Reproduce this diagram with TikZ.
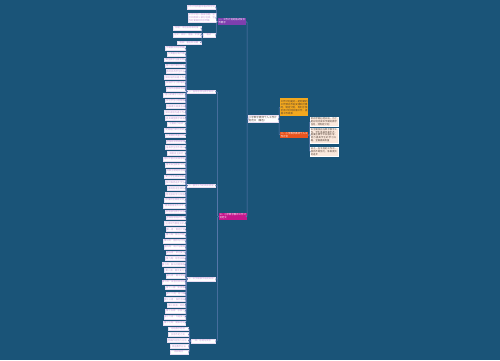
\documentclass[tikz,border=0pt]{standalone}
\usepackage{fontspec}
\newfontfamily\cjk{Noto Sans CJK SC}
\XeTeXlinebreaklocale "zh"
\XeTeXlinebreakskip=0pt plus 1pt
\definecolor{bg}{HTML}{1A5478}
\definecolor{lc}{HTML}{5F7BB0}
\definecolor{ltext}{HTML}{C49AD6}
\definecolor{lborder}{HTML}{E8DDF2}
\definecolor{yel}{HTML}{F3A81E}
\definecolor{redo}{HTML}{E8541E}
\definecolor{pur}{HTML}{7E3FAE}
\definecolor{mag}{HTML}{C4168C}
\definecolor{peach}{HTML}{FBE9DD}
\definecolor{dtext}{HTML}{4A3A30}
\tikzset{
  tiny/.style={font=\cjk\fontsize{2.3}{2.8}\selectfont},
  leaf/.style={tiny, fill=white, draw=lborder, line width=0.2pt, inner sep=0.4pt,
    text=ltext, minimum height=3.8pt, anchor=east},
  para/.style={tiny, fill=white, draw=lborder, line width=0.2pt, inner sep=0.8pt,
    text=ltext, align=left, anchor=north west},
  rootbox/.style={font=\cjk\fontsize{2.5}{3.1}\selectfont, fill=white, draw=lborder,
    line width=0.2pt, inner sep=0.8pt, text=dtext, align=left, text width=28.4pt},
  mainbox/.style={font=\cjk\fontsize{2.4}{3}\selectfont, inner sep=0.7pt, align=left,
    text=white, text width=26.6pt},
  rbox/.style={tiny, fill=peach, draw=white, line width=0.2pt, inner sep=0.8pt,
    text=dtext, align=left, text width=26.4pt, anchor=north west},
  conn/.style={draw=lc, line width=0.5pt, rounded corners=1pt}
}
\begin{document}
\begin{tikzpicture}[x=1pt,y=-1pt]
\fill[bg] (0,0) rectangle (500,360);
\useasboundingbox (0,0) rectangle (500,360);

% root
\node[rootbox] (root) at (263,119) {小学数学教师个人工作计划范文（精选）};

% right side
\node[mainbox, fill=yel, text=dtext, anchor=north west, minimum height=18pt] (Y) at (280,98)
  {工作计划是对一定时期的工作预先作出安排和打算时，制定计划，有利于我们有计划地开展工作，提高工作效率};
\node[mainbox, fill=redo, anchor=west] (R) at (280,135) {二、小学数学教师个人工作计划};
\node[rbox] (R1) at (310,117) {新的学期已经开始，为了更好地完成本学期的教学任务，特制定计划};
\node[rbox] (R2) at (310,127.5) {本学期我担任数学教学工作，学生基础参差不齐，需要在教学中加强引导，努力提高学生的学习兴趣，全面提高质量};
\node[rbox] (R3) at (310,147) {总之，在今后的工作中，我将不断努力，争取更大的进步};

\draw[conn] (root.east) -- ++(1,0) |- (Y.west);
\draw[conn] (root.east) -- ++(1,0) |- (R.west);
\foreach \c in {R1,R2,R3} \draw[conn] (R.east) -- ++(1,0) |- (\c.west);

% left main nodes
\node[mainbox, fill=pur, anchor=east] (P) at (246,21.5) {一、工作计划的格式及写作要求};
\node[mainbox, fill=mag, anchor=east] (M) at (247,216.5) {三、小学数学教师工作计划范文};
\draw[conn] (root.west) -- ++(-0.8,0) |- (P.east);
\draw[conn] (root.west) -- ++(-0.8,0) |- (M.east);

% children of P
\node[leaf, minimum width=28pt] (A) at (215.5,7) {工作计划的基本格式和写法};
\node[para, text width=26.4pt] (B) at (188,13) {工作计划一般由标题、正文和落款三部分组成，写作时要做到目标明确};
\node[leaf, minimum width=12pt] (E) at (215,35) {格式};
\node[leaf, minimum width=28pt] (C) at (201,28) {标题：单位名称和时限};
\node[leaf, minimum width=28pt] (D) at (201,35) {正文：目标、措施、步骤};
\node[leaf, minimum width=24pt] (F) at (201,42.5) {落款：署名和日期};
\foreach \c in {A,B,E} \draw[conn] (P.west) -- ++(-1,0) |- (\c.east);
\foreach \c in {C,D,F} \draw[conn] (E.west) -- ++(-1,0) |- (\c.east);

% children of M
\node[leaf, minimum width=28pt] (G) at (215,91.5) {一、指导思想与教学目标};
\node[leaf, minimum width=28pt] (H) at (215,185.5) {二、教学工作的具体措施};
\node[leaf, minimum width=28pt] (I) at (215,279) {三、本学期教学进度安排};
\node[leaf, minimum width=24pt] (J) at (215,341) {四、总结与反思};
\foreach \c in {G,H,I,J} \draw[conn] (M.west) -- ++(-1,0) |- (\c.east);

% leaves
\foreach \i/\w/\t in {
 1/20/学期教学目标明确, 2/18/认真备好每节课, 3/21/课堂教学注重实效, 4/20/精心设计课后作业,
 5/19/及时批改学生作业, 6/21/做好培优补差工作, 7/20/加强学习习惯培养, 8/18/积极参加教研活动,
 9/22/虚心听课学习经验, 10/20/关注学生心理健康, 11/19/开展课外阅读活动, 12/21/做好家校沟通工作,
 13/20/提高课堂教学效率, 14/18/注重能力培养, 15/21/定期进行单元测试, 16/20/认真做好质量分析,
 17/19/加强班级常规管理, 18/20/培养学生合作意识, 19/18/鼓励自主探究, 20/22/组织丰富的实践活动,
 21/20/落实安全教育工作, 22/19/开展主题班会活动, 23/21/建立学生成长档案, 24/20/及时表扬进步学生,
 25/18/重视后进生转化, 26/20/营造良好学习氛围, 27/21/加强师生情感交流, 28/22/提高自身业务水平,
 29/20/积极撰写教学反思, 30/19/参加各级培训学习, 31/21/运用现代教育技术,
 32/18/第一周：制定计划, 33/20/第二周：数与代数, 34/22/第三周：图形与几何, 35/21/第四周：统计与概率,
 36/18/第五周：单元复习, 37/20/第六周：综合实践, 38/22/第七周：解决问题策略, 39/21/第八周：期中复习,
 40/17/第九周：期中测试, 41/22/第十周：试卷分析讲评, 42/20/第十一周：新授课, 43/19/第十二周：练习课,
 44/21/第十三周：探究活动, 45/18/第十四周：测验, 46/20/第十五周：总复习, 47/21/第十六周：专题复习,
 48/22/第十七周：期末考试,
 49/20/总结教学经验, 50/20/反思不足之处, 51/21/明确今后努力方向, 52/18/改进教学方法, 53/18/再接再厉
}{
  \node[leaf, minimum width=\w pt] (l\i) at ({\i>48 ? 188 : 185.5}, {48+(\i-1)*5.846}) {\t};
}
\foreach \i in {1,...,16} \draw[conn] (G.west) -- ++(-0.7,0) |- (l\i.east);
\foreach \i in {17,...,31} \draw[conn] (H.west) -- ++(-0.7,0) |- (l\i.east);
\foreach \i in {32,...,48} \draw[conn] (I.west) -- ++(-0.7,0) |- (l\i.east);
\foreach \i in {49,...,53} \draw[conn] (J.west) -- ++(-1.2,0) |- (l\i.east);
\end{tikzpicture}
\end{document}
